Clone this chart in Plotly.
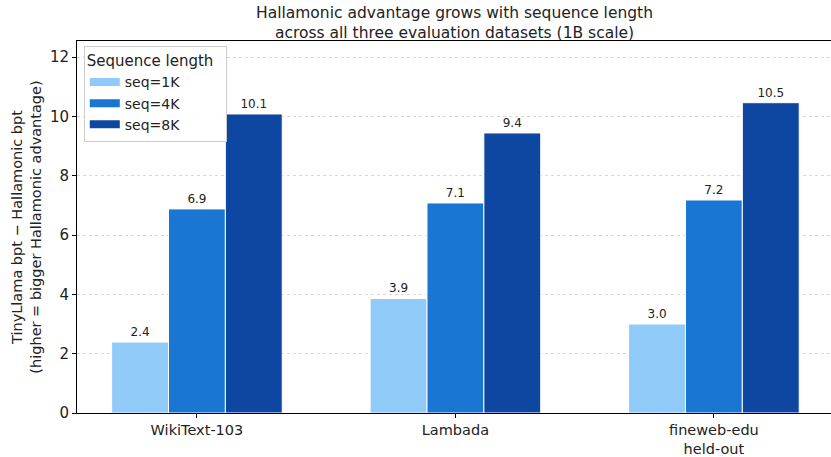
import plotly.graph_objects as go

categories = ["WikiText-103", "Lambada", "fineweb-edu<br>held-out"]
series_names = ["seq=1K", "seq=4K", "seq=8K"]
seq_1k = [2.39, 3.86, 3.00]
seq_4k = [6.88, 7.08, 7.18]
seq_8k = [10.08, 9.44, 10.46]
colors = ["#90CAF9", "#1976D2", "#0D47A1"]
title_text = "Hallamonic advantage grows with sequence length<br>across all three evaluation datasets (1B scale)"

font = "DejaVu Sans, Liberation Sans, sans-serif"
x = [0, 1, 2]

fig = go.Figure()
for name, vals, c in zip(series_names, [seq_1k, seq_4k, seq_8k], colors):
    fig.add_trace(go.Bar(
        x=x, y=vals, name=name, showlegend=False, legendgroup=name,
        marker=dict(color=c, line=dict(color="white", width=1)),
        text=[f"{v:.1f}" for v in vals],
        textposition="outside", cliponaxis=False,
        textfont=dict(size=12, color="#222"),
    ))
# legend swatches (wide rectangles like the reference)
for name, c in zip(series_names, colors):
    fig.add_trace(go.Scatter(
        x=[None], y=[None], mode="lines", name=name, legendgroup=name,
        line=dict(color=c, width=8), hoverinfo="skip",
    ))

fig.update_layout(
    width=831, height=457,
    margin=dict(l=77, r=0, t=41, b=44, autoexpand=False),
    paper_bgcolor="white", plot_bgcolor="white",
    font=dict(family=font, size=13, color="#222"),
    barmode="group", bargap=0.34, bargroupgap=0,
    legend=dict(
        x=0.009, y=0.987, xanchor="left", yanchor="top",
        bordercolor="#cccccc", borderwidth=1, bgcolor="rgba(255,255,255,0.9)",
        title=dict(text="Sequence length  ", font=dict(size=15)),
        font=dict(size=14),
        itemwidth=30,
        tracegroupgap=0,
    ),
    showlegend=True,
    annotations=[dict(
        text=title_text, xref="paper", yref="paper", x=0.5, y=1.104,
        xanchor="center", yanchor="top", showarrow=False,
        font=dict(size=15.5, family=font, color="#222"),
    )],
)

fig.update_xaxes(
    range=[-0.464, 2.453], automargin=False,
    tickmode="array", tickvals=x, ticktext=categories,
    showline=True, linecolor="black", linewidth=1, mirror=True,
    ticks="outside", ticklen=4, tickcolor="black",
    showgrid=False, zeroline=False,
    tickfont=dict(size=14.5),
)
fig.update_yaxes(
    range=[0, 12.54], automargin=False,
    tickvals=[0, 2, 4, 6, 8, 10, 12],
    showline=True, linecolor="black", linewidth=1,
    ticks="outside", ticklen=4, tickcolor="black",
    showgrid=True, gridcolor="#d8d8d8", gridwidth=0.8, griddash="dot",
    zeroline=False, layer="above traces",
    tickfont=dict(size=15),
    title=dict(text="TinyLlama bpt − Hallamonic bpt<br>(higher = bigger Hallamonic advantage)",
               font=dict(size=14.5), standoff=4),
)

fig.write_html("out.html", config={"displayModeBar": False},
               post_script="document.body.style.margin='0';document.body.style.overflow='hidden';")
